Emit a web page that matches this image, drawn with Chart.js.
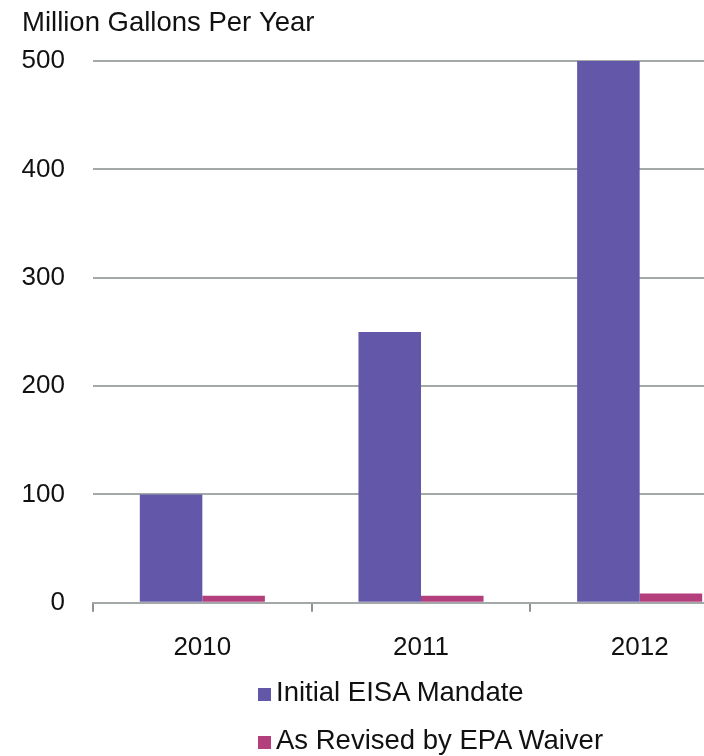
<!DOCTYPE html>
<html>
<head>
<meta charset="utf-8">
<script src="https://cdn.jsdelivr.net/npm/chart.js@4.4.1/dist/chart.umd.min.js"></script>
<style>
    html, body { margin: 0; padding: 0; background: #fff; overflow: hidden; width: 704px; height: 756px; }
    #wrap { position: absolute; left: 0; top: 0; width: 760px; height: 686px; }
    #legend { position: absolute; left: 258px; top: 674px; font-family: "Liberation Sans", Arial, sans-serif; font-size: 27.5px; color: #111; }
    #legend div { height: 48px; line-height: 36px; white-space: nowrap; }
    #legend span.box { display: inline-block; width: 13px; height: 13px; margin-right: 5px; vertical-align: 0px; }
</style>
</head>
<body>
<div id="wrap"><canvas id="fuelChart" width="760" height="686"></canvas></div>
<div id="legend"></div>
<script>
    const years = ["2010", "2011", "2012"];
    const mandateValues = [100, 250, 500];
    const waiverValues = [6.5, 6.6, 8.65];
    const yTicks = [0, 100, 200, 300, 400, 500];

    const seriesNames = ["Initial EISA Mandate", "As Revised by EPA Waiver"];
    const seriesColors = ["#6357aa", "#b3407c"];

    const font = { family: "'Liberation Sans', Arial, sans-serif", size: 26 };

    const data = {
        labels: years,
        datasets: [
            { label: seriesNames[0], data: mandateValues, backgroundColor: seriesColors[0] },
            { label: seriesNames[1], data: waiverValues, backgroundColor: seriesColors[1] }
        ]
    };

    const ctx = document.getElementById('fuelChart').getContext('2d');
    const chart = new Chart(ctx, {
        type: 'bar',
        data: data,
        options: {
            responsive: false,
            animation: false,
            layout: { padding: { left: 22, right: 11, top: 0, bottom: 3 } },
            datasets: {
                bar: { categoryPercentage: 0.572, barPercentage: 1.0 }
            },
            plugins: {
                legend: { display: false },
                tooltip: { enabled: false },
                title: {
                    display: true,
                    text: 'Million Gallons Per Year',
                    align: 'start',
                    color: '#111',
                    font: { family: font.family, size: 27.5, weight: 'normal' },
                    padding: { top: 7, bottom: 21 }
                }
            },
            scales: {
                x: {
                    grid: {
                        display: true,
                        drawOnChartArea: false,
                        drawTicks: true,
                        tickLength: 9,
                        color: '#8e9292',
                        lineWidth: 2
                    },
                    border: { display: true, color: '#a3a8a8', width: 2 },
                    ticks: { color: '#111', font: font, padding: 20 }
                },
                y: {
                    min: 0,
                    max: 500,
                    afterBuildTicks: scale => { scale.ticks = yTicks.map(v => ({ value: v })); },
                    afterFit: scale => { scale.width = 71; },
                    grid: { color: '#a3a8a8', lineWidth: 2, drawTicks: false },
                    border: { display: false },
                    ticks: { color: '#111', font: font, padding: 28 }
                }
            }
        }
    });

    // legend stacked vertically under the axis
    const legendEl = document.getElementById('legend');
    chart.data.datasets.forEach(ds => {
        const row = document.createElement('div');
        const box = document.createElement('span');
        box.className = 'box';
        box.style.background = ds.backgroundColor;
        row.appendChild(box);
        row.appendChild(document.createTextNode(ds.label));
        legendEl.appendChild(row);
    });
</script>
</body>
</html>
